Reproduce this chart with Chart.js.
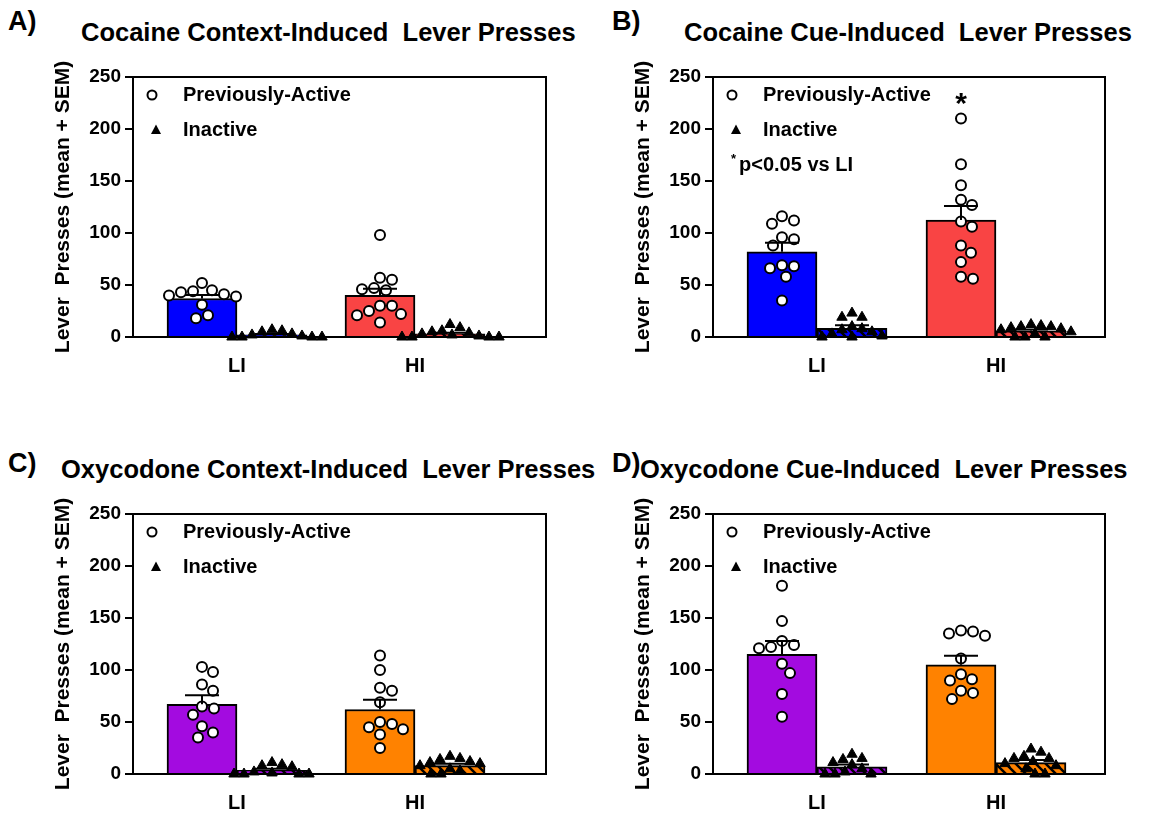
<!DOCTYPE html>
<html>
<head>
  <meta charset="utf-8">
  <title>Lever presses by impulsivity group</title>
  <script src="https://cdn.jsdelivr.net/npm/chart.js@4.4.1/dist/chart.umd.min.js"></script>
  <style>
    html, body {
      margin: 0;
      padding: 0;
      background: #fff;
      width: 1164px;
      height: 814px;
      overflow: hidden;
      position: relative;
      font-family: "Liberation Sans", Arial, sans-serif;
    }
    canvas { position: absolute; }
    .lbl { position: absolute; font-weight: bold; color: #000; white-space: pre; line-height: 1; }
    .letter { font-size: 27px; }
    .ttl { font-size: 25.5px; }
  </style>
</head>
<body>
  <div class="lbl letter" style="left:8px;top:8px">A)</div>
  <div class="lbl ttl" style="left:81px;top:20px">Cocaine Context-Induced  Lever Presses</div>
  <div class="lbl letter" style="left:612px;top:8px">B)</div>
  <div class="lbl ttl" style="left:684px;top:20px">Cocaine Cue-Induced  Lever Presses</div>
  <div class="lbl letter" style="left:8px;top:450px">C)</div>
  <div class="lbl ttl" style="left:61px;top:457px">Oxycodone Context-Induced  Lever Presses</div>
  <div class="lbl letter" style="left:612px;top:450px">D)</div>
  <div class="lbl ttl" style="left:640px;top:457px">Oxycodone Cue-Induced  Lever Presses</div>

  <canvas id="cA" width="582" height="339" style="left:0px;top:51px"></canvas>
  <canvas id="cB" width="584" height="339" style="left:580px;top:51px"></canvas>
  <canvas id="cC" width="582" height="326" style="left:0px;top:488px"></canvas>
  <canvas id="cD" width="584" height="326" style="left:580px;top:488px"></canvas>

  <script>
    var groups = ['LI', 'HI'];
    var yTicks = [0, 50, 100, 150, 200, 250];
    var legendLabels = ['Previously-Active', 'Inactive'];
    var yTitle = 'Lever  Presses (mean + SEM)';
    var sigNote = 'p<0.05 vs LI';

    // A) cocaine, context-induced
    var cocCtxActLI = [52, 44, 45, 43, 41, 40, 39, 31, 21, 18];
    var cocCtxActHI = [98, 57, 55, 47, 46, 45, 30, 30, 25, 22, 21, 14];
    var cocCtxInaLI = [7, 6, 5, 3, 2, 1, 0, 0, 0, 0];
    var cocCtxInaHI = [12, 9, 6, 5, 4, 3, 2, 1, 0, 0, 0, 0];
    var cocCtxActMean = [37, 40];
    var cocCtxActSem = [3.5, 6.5];
    var cocCtxInaMean = [2, 3];
    var cocCtxInaSem = [0.8, 1.1];

    // B) cocaine, cue-induced
    var cocCueActLI = [116, 112, 109, 96, 94, 88, 69, 68, 66, 58, 35];
    var cocCueActHI = [210, 166, 146, 132, 127, 111, 106, 88, 81, 72, 58, 56];
    var cocCueInaLI = [23, 19, 19, 10, 8, 7, 5, 3, 1, 0, 0];
    var cocCueInaHI = [12, 11, 10, 10, 9, 8, 7, 5, 3, 0, 0, 0];
    var cocCueActMean = [82, 112.5];
    var cocCueActSem = [8.7, 13.5];
    var cocCueInaMean = [8.3, 6];
    var cocCueInaSem = [3, 1.2];

    // C) oxycodone, context-induced
    var oxyCtxActLI = [103, 98, 86, 80, 65, 63, 57, 46, 40, 35];
    var oxyCtxActHI = [114, 100, 83, 80, 69, 50, 48, 45, 43, 38, 25];
    var oxyCtxInaLI = [11, 9, 8, 7, 2, 1, 0, 0, 0, 0];
    var oxyCtxInaHI = [17, 15, 14, 12, 11, 10, 8, 5, 3, 0, 0];
    var oxyCtxActMean = [67, 62];
    var oxyCtxActSem = [8.7, 9.5];
    var oxyCtxInaMean = [3.5, 8];
    var oxyCtxInaSem = [1.5, 1.8];

    // D) oxycodone, cue-induced
    var oxyCueActLI = [181, 147, 128, 124, 122, 121, 106, 97, 77, 55];
    var oxyCueActHI = [138, 137, 135, 133, 111, 96, 91, 90, 80, 78, 72];
    var oxyCueInaLI = [19, 15, 14, 11, 9, 5, 2, 0, 0, 0];
    var oxyCueInaHI = [24, 21, 17, 15, 15, 12, 10, 8, 5, 0, 0];
    var oxyCueActMean = [115, 105];
    var oxyCueActSem = [12.8, 8.7];
    var oxyCueInaMean = [7, 11];
    var oxyCueInaSem = [2.2, 2.5];

    var FONT = '"Liberation Sans", Arial, sans-serif';
    var BAR_W = 70;

    function hatch(ctx, color) {
      var c = document.createElement('canvas');
      c.width = 10; c.height = 10;
      var g = c.getContext('2d');
      g.fillStyle = color;
      g.fillRect(0, 0, 10, 10);
      g.strokeStyle = '#000';
      g.lineWidth = 2.5;
      g.beginPath();
      g.moveTo(-2, -2); g.lineTo(12, 12);
      g.moveTo(-2, 8); g.lineTo(2, 12);
      g.moveTo(8, -2); g.lineTo(12, 2);
      g.stroke();
      return ctx.createPattern(c, 'repeat');
    }

    // simple beeswarm: spread points sideways so the markers don't overlap
    function swarm(vals, center, pxX, pxY, d) {
      var placed = [];
      var out = new Array(vals.length);
      var order = vals.map(function (v, i) { return i; })
        .sort(function (a, b) { return vals[b] - vals[a]; });
      order.forEach(function (i) {
        var py = vals[i] * pxY;
        var dx = 0;
        for (var k = 0; k < 400; k++) {
          var cand = (k % 2 ? 1 : -1) * Math.ceil(k / 2);
          var ok = placed.every(function (p) {
            var ex = p[0] - cand, ey = p[1] - py;
            return ex * ex + ey * ey >= d * d;
          });
          if (ok) { dx = cand; break; }
        }
        placed.push([dx, py]);
        out[i] = { x: center + dx / pxX, y: vals[i] };
      });
      return out;
    }

    var deco = {
      id: 'deco',
      beforeDatasetsDraw: function (chart) {
        var a = chart.chartArea, ctx = chart.ctx;
        ctx.save();
        ctx.strokeStyle = '#000';
        ctx.lineWidth = 2;
        ctx.strokeRect(a.left, a.top, a.right - a.left, a.bottom - a.top);
        ctx.restore();
      },
      afterDatasetsDraw: function (chart, args, o) {
        var ctx = chart.ctx, a = chart.chartArea;
        var xs = chart.scales.x, ys = chart.scales.y;
        ctx.save();
        ctx.strokeStyle = '#000';
        ctx.lineWidth = 2;
        [0, 1].forEach(function (g) {
          [[o.actMean, o.actSem, -1], [o.inaMean, o.inaSem, 1]].forEach(function (s) {
            var cx = xs.getPixelForValue(g + 1) + s[2] * BAR_W / 2;
            var y0 = ys.getPixelForValue(s[0][g]);
            var y1 = ys.getPixelForValue(s[0][g] + s[1][g]);
            ctx.beginPath();
            ctx.moveTo(cx, y0); ctx.lineTo(cx, y1);
            ctx.moveTo(cx - 17, y1); ctx.lineTo(cx + 17, y1);
            ctx.stroke();
          });
        });

        // legend
        ctx.fillStyle = '#000';
        ctx.font = 'bold 20px ' + FONT;
        ctx.textBaseline = 'alphabetic';
        ctx.textAlign = 'left';
        ctx.fillText(legendLabels[0], a.left + 50, a.top + 24);
        ctx.fillText(legendLabels[1], a.left + 50, a.top + 59);
        ctx.beginPath();
        ctx.arc(a.left + 19, a.top + 18, 4.5, 0, Math.PI * 2);
        ctx.fillStyle = '#fff';
        ctx.fill();
        ctx.stroke();
        ctx.fillStyle = '#000';
        ctx.beginPath();
        ctx.moveTo(a.left + 23, a.top + 47.5);
        ctx.lineTo(a.left + 28, a.top + 57);
        ctx.lineTo(a.left + 18, a.top + 57);
        ctx.closePath();
        ctx.fill();

        if (o.sig) {
          ctx.font = 'bold 13px ' + FONT;
          ctx.fillText('*', a.left + 18, a.top + 86);
          ctx.font = 'bold 20px ' + FONT;
          ctx.fillText(sigNote, a.left + 26, a.top + 94);
          ctx.font = 'bold 30px ' + FONT;
          ctx.textAlign = 'center';
          ctx.fillText('*', xs.getPixelForValue(2) - BAR_W / 2, ys.getPixelForValue(o.starAt));
        }
        ctx.restore();
      }
    };

    function makePanel(p) {
      var canvas = document.getElementById(p.id);
      var ctx = canvas.getContext('2d');
      var pxX = p.pxX, pxY = 260 / 250;
      var off = (BAR_W / 2) / pxX;
      var actPts = swarm(p.act[0], 1 - off, pxX, pxY, 12).concat(swarm(p.act[1], 2 - off, pxX, pxY, 12));
      var inaPts = swarm(p.ina[0], 1 + off, pxX, pxY, 10).concat(swarm(p.ina[1], 2 + off, pxX, pxY, 10));
      var tickFont = { family: FONT, size: 19, weight: 'bold' };

      return new Chart(ctx, {
        type: 'bar',
        data: {
          datasets: [
            {
              type: 'scatter', label: legendLabels[0], data: actPts,
              pointStyle: 'circle', pointRadius: 5, borderWidth: 2,
              borderColor: '#000', backgroundColor: '#fff', order: 1, clip: false
            },
            {
              type: 'scatter', label: legendLabels[1], data: inaPts,
              pointStyle: 'triangle', pointRadius: 6, borderWidth: 1,
              borderColor: '#000', backgroundColor: '#000', order: 1, clip: false
            },
            {
              type: 'bar', label: 'active mean',
              data: [{ x: 1, y: p.actMean[0] }, { x: 2, y: p.actMean[1] }],
              backgroundColor: p.colors, borderColor: '#000', borderWidth: 2,
              barThickness: BAR_W, order: 2
            },
            {
              type: 'bar', label: 'inactive mean',
              data: [{ x: 1, y: p.inaMean[0] }, { x: 2, y: p.inaMean[1] }],
              backgroundColor: [hatch(ctx, p.colors[0]), hatch(ctx, p.colors[1])],
              borderColor: '#000', borderWidth: 2,
              barThickness: BAR_W, order: 2
            }
          ]
        },
        options: {
          responsive: false,
          animation: false,
          events: [],
          layout: { padding: { top: 26, right: p.padRight, left: 0, bottom: 0 } },
          plugins: {
            legend: { display: false },
            tooltip: { enabled: false },
            deco: {
              actMean: p.actMean, actSem: p.actSem,
              inaMean: p.inaMean, inaSem: p.inaSem,
              sig: !!p.sig, starAt: p.starAt
            }
          },
          scales: {
            x: {
              type: 'linear', min: p.xMin, max: p.xMax, offset: false,
              afterBuildTicks: function (s) { s.ticks = [{ value: 1 }, { value: 2 }]; },
              afterFit: function (s) { s.height = p.xAxisH; },
              grid: { display: false, drawTicks: false, offset: false },
              border: { display: true, color: '#000', width: 2 },
              ticks: {
                padding: 17, color: '#000', autoSkip: false, maxRotation: 0,
                font: { family: FONT, size: 20, weight: 'bold' },
                callback: function (v) { return groups[v - 1]; }
              }
            },
            y: {
              min: 0, max: 250,
              afterBuildTicks: function (s) { s.ticks = yTicks.map(function (v) { return { value: v }; }); },
              afterFit: function (s) { s.width = 133; },
              grid: { drawOnChartArea: false, drawTicks: true, tickLength: 8, color: '#000', lineWidth: 2 },
              border: { display: true, color: '#000', width: 2 },
              ticks: { padding: 4, color: '#000', font: tickFont },
              title: {
                display: true, text: yTitle, color: '#000',
                font: { family: FONT, size: 21, weight: 'bold' },
                padding: { top: 51, bottom: 0 }
              }
            }
          }
        },
        plugins: [deco]
      });
    }

    var BLUE = '#0000ff', RED = '#f94444', PURPLE = '#a30be0', ORANGE = '#ff8200';
    var leftAxis = { xMin: 0.4157, xMax: 2.736, pxX: 178, padRight: 36 };
    var rightAxis = { xMin: 0.419, xMax: 2.609, pxX: 179, padRight: 59 };

    function panel(id, ax, extra) {
      var p = Object.assign({ id: id }, ax, extra);
      return makePanel(p);
    }

    panel('cA', leftAxis, {
      xAxisH: 53, colors: [BLUE, RED],
      act: [cocCtxActLI, cocCtxActHI], ina: [cocCtxInaLI, cocCtxInaHI],
      actMean: cocCtxActMean, actSem: cocCtxActSem, inaMean: cocCtxInaMean, inaSem: cocCtxInaSem
    });
    panel('cB', rightAxis, {
      xAxisH: 53, colors: [BLUE, RED], sig: true, starAt: 215,
      act: [cocCueActLI, cocCueActHI], ina: [cocCueInaLI, cocCueInaHI],
      actMean: cocCueActMean, actSem: cocCueActSem, inaMean: cocCueInaMean, inaSem: cocCueInaSem
    });
    panel('cC', leftAxis, {
      xAxisH: 40, colors: [PURPLE, ORANGE],
      act: [oxyCtxActLI, oxyCtxActHI], ina: [oxyCtxInaLI, oxyCtxInaHI],
      actMean: oxyCtxActMean, actSem: oxyCtxActSem, inaMean: oxyCtxInaMean, inaSem: oxyCtxInaSem
    });
    panel('cD', rightAxis, {
      xAxisH: 40, colors: [PURPLE, ORANGE],
      act: [oxyCueActLI, oxyCueActHI], ina: [oxyCueInaLI, oxyCueInaHI],
      actMean: oxyCueActMean, actSem: oxyCueActSem, inaMean: oxyCueInaMean, inaSem: oxyCueInaSem
    });
  </script>
</body>
</html>
